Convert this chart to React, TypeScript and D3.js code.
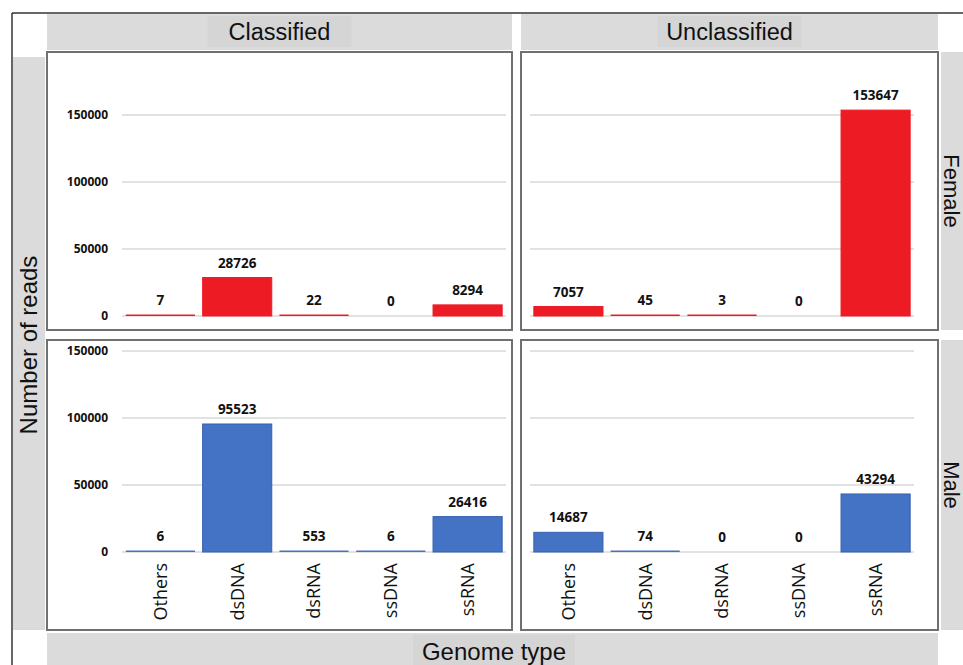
import React from "react";
import * as d3 from "d3";

const categories = ["Others", "dsDNA", "dsRNA", "ssDNA", "ssRNA"];
const colGroups = ["Classified", "Unclassified"];
const rowGroups = ["Female", "Male"];
const classifiedFemale = [7, 28726, 22, 0, 8294];
const unclassifiedFemale = [7057, 45, 3, 0, 153647];
const classifiedMale = [6, 95523, 553, 6, 26416];
const unclassifiedMale = [14687, 74, 0, 0, 43294];
const yTicks = [0, 50000, 100000, 150000];
const rowColors = ["#ed1c24", "#4472c4"];
const rowStrokes = ["#ed1c24", "#3560ad"];

const W = 963;
const H = 665;

const panelX = [
  { x0: 47, x1: 512, g0: 122, g1: 506 },
  { x0: 521, x1: 938, g0: 530, g1: 914 },
];
const panelY = [
  { y0: 52, y1: 330, zero: 316 },
  { y0: 340, y1: 630, zero: 552 },
];

const data = [
  [classifiedFemale, unclassifiedFemale],
  [classifiedMale, unclassifiedMale],
];

const stripFont = "'Liberation Sans', Arial, sans-serif";
const numFont = "'Open Sans', sans-serif";
const stripFill = "#dbdbdb";
const labelBoxFill = "#d5d5d5";

export default function App() {
  const panels: React.ReactNode[] = [];
  rowGroups.forEach((rg, r) => {
    const py = panelY[r];
    const y = d3.scaleLinear().domain([0, 150000]).range([py.zero, py.zero - 201]);
    colGroups.forEach((cg, c) => {
      const px = panelX[c];
      const x = d3
        .scaleBand<string>()
        .domain(categories)
        .range([px.g0, px.g1])
        .paddingInner(0.1)
        .paddingOuter(0.05);
      const vals = data[r][c];
      panels.push(
        <g key={`${r}-${c}`}>
          <rect
            x={px.x0}
            y={py.y0}
            width={px.x1 - px.x0}
            height={py.y1 - py.y0}
            fill="#fff"
            stroke="#707070"
            strokeWidth={2}
          />
          {yTicks.map((t) => (
            <line
              key={t}
              x1={px.g0}
              x2={px.g1}
              y1={y(t)}
              y2={y(t)}
              stroke="#d9d9d9"
              strokeWidth={1.5}
            />
          ))}
          {c === 0 &&
            yTicks.map((t) => (
              <text
                key={"t" + t}
                x={108}
                y={y(t)}
                dy="0.35em"
                textAnchor="end"
                fontFamily={numFont}
                fontWeight="bold"
                fontSize={12}
                fill="#111"
              >
                {t}
              </text>
            ))}
          {vals.map((v, i) => {
            const cat = categories[i];
            const top = y(v);
            let h = py.zero - top;
            if (v > 0 && h < 1.5) h = 1.5;
            return (
              <g key={cat}>
                {v > 0 && (
                  <rect
                    x={x(cat)!}
                    y={py.zero - h}
                    width={x.bandwidth()}
                    height={h}
                    fill={rowColors[r]}
                    stroke={h > 3 ? rowStrokes[r] : "none"}
                    strokeWidth={1}
                  />
                )}
                <text
                  x={x(cat)! + x.bandwidth() / 2}
                  y={py.zero - h - 10}
                  textAnchor="middle"
                  fontFamily={numFont}
                  fontWeight="bold"
                  fontSize={13.5}
                  fill="#111"
                >
                  {v}
                </text>
              </g>
            );
          })}
          {r === 1 &&
            categories.map((cat) => (
              <text
                key={"x" + cat}
                transform={`translate(${x(cat)! + x.bandwidth() / 2},563) rotate(-90)`}
                dy="0.35em"
                textAnchor="end"
                fontFamily={numFont}
                fontSize={18}
                fill="#111"
              >
                {cat}
              </text>
            ))}
        </g>
      );
    });
  });

  return (
    <svg
      width={W}
      height={H}
      style={{ position: "absolute", left: 0, top: 0, background: "#fff" }}
    >
      {/* top strips */}
      {colGroups.map((cg, c) => {
        const px = panelX[c];
        const cx = (px.x0 + px.x1) / 2;
        return (
          <g key={cg}>
            <rect x={px.x0} y={14} width={px.x1 - px.x0} height={36} fill={stripFill} />
            <rect x={cx - 72} y={16} width={144} height={31} fill={labelBoxFill} />
            <text
              x={cx}
              y={32}
              dy="0.35em"
              textAnchor="middle"
              fontFamily={stripFont}
              fontSize={23.5}
              fill="#111"
            >
              {cg}
            </text>
          </g>
        );
      })}
      {/* left strip */}
      <rect x={13} y={57} width={32} height={573} fill={stripFill} />
      <text
        transform={`translate(29,345) rotate(-90)`}
        dy="0.35em"
        textAnchor="middle"
        fontFamily={stripFont}
        fontSize={24}
        fill="#111"
      >
        Number of reads
      </text>
      {/* right strips */}
      {rowGroups.map((rg, r) => {
        const py = panelY[r];
        return (
          <g key={rg}>
            <rect x={941} y={py.y0} width={W - 941} height={py.y1 - py.y0} fill={stripFill} />
            <text
              transform={`translate(944,${(py.y0 + py.y1) / 2}) rotate(90)`}
              textAnchor="middle"
              fontFamily={stripFont}
              fontSize={22}
              fill="#111"
            >
              {rg}
            </text>
          </g>
        );
      })}
      {/* bottom strip */}
      <rect x={47} y={633} width={891} height={32} fill={stripFill} />
      <rect x={413} y={635} width={162} height={30} fill={labelBoxFill} />
      <text
        x={494}
        y={652}
        dy="0.35em"
        textAnchor="middle"
        fontFamily={stripFont}
        fontSize={24}
        fill="#111"
      >
        Genome type
      </text>
      {panels}
      {/* outer frame */}
      <line x1={12} x2={W} y1={13} y2={13} stroke="#333" strokeWidth={1.5} />
      <line x1={12} x2={12} y1={13} y2={H} stroke="#333" strokeWidth={1.5} />
    </svg>
  );
}
